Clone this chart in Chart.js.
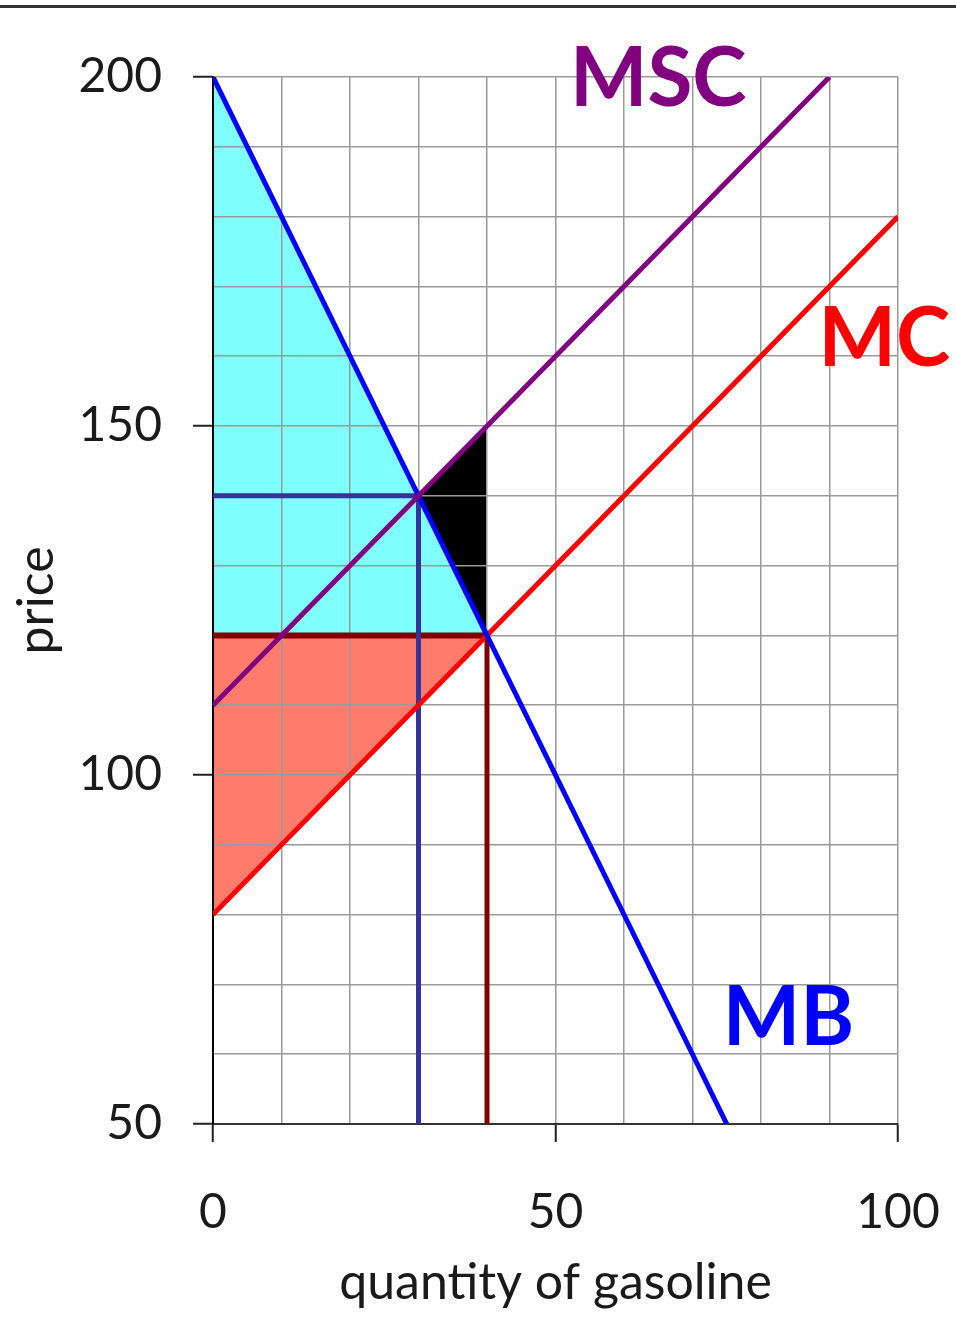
<!DOCTYPE html>
<html>
<head>
<meta charset="utf-8">
<script src="https://cdn.jsdelivr.net/npm/chart.js@4.4.1/dist/chart.umd.min.js"></script>
<style>
  html, body { margin: 0; padding: 0; background: #fff; }
  #wrap { position: relative; width: 956px; height: 1323px; }
  #topline { position: absolute; left: 0; top: 5px; width: 956px; height: 3px; background: #333; }
  canvas { display: block; }
</style>
</head>
<body>
<div id="wrap">
  <canvas id="c" width="956" height="1323"></canvas>
  <div id="topline"></div>
</div>
<script>
// ---- data ----
const mbQ = [0, 75];      const mbP = [200, 50];     // marginal benefit (demand)
const mscQ = [0, 90];     const mscP = [110, 200];   // marginal social cost
const mcQ = [0, 100];     const mcP = [80, 180];     // marginal private cost
const optimumQ = 30;      const optimumP = 140;      // MB = MSC
const marketQ = 40;       const marketP = 120;       // MB = MC
const xTickLabels = [0, 50, 100];
const yTickLabels = [50, 100, 150, 200];
const curveLabels = ['MSC', 'MC', 'MB'];
const curveLabelQ = [65, 98, 84];
const curveLabelP = [199.7, 162.4, 65.15];

const pts = (qs, ps) => qs.map((q, i) => ({ x: q, y: ps[i] }));
const mbAt = q => mbP[0] + (mbP[1] - mbP[0]) * (q - mbQ[0]) / (mbQ[1] - mbQ[0]);
const mscAt = q => mscP[0] + (mscP[1] - mscP[0]) * (q - mscQ[0]) / (mscQ[1] - mscQ[0]);
const mcAt = q => mcP[0] + (mcP[1] - mcP[0]) * (q - mcQ[0]) / (mcQ[1] - mcQ[0]);

const FONT = 'Lato';
const base = { showLine: true, pointRadius: 0, pointHoverRadius: 0, fill: false, tension: 0 };

const datasets = [
  { ...base, label: 'MSC', data: pts(mscQ, mscP), borderColor: '#800080', borderWidth: 5 },
  { ...base, label: 'MB', data: pts(mbQ, mbP), borderColor: '#0000FF', borderWidth: 5 },
  { ...base, label: 'MC', data: pts(mcQ, mcP), borderColor: '#FF0000', borderWidth: 5 },
  { ...base, label: 'optV', data: [{x: optimumQ, y: optimumP}, {x: optimumQ, y: yTickLabels[0]}], borderColor: '#333399', borderWidth: 5 },
  { ...base, label: 'optH', data: [{x: 0, y: optimumP}, {x: optimumQ, y: optimumP}], borderColor: '#333399', borderWidth: 5 },
  { ...base, label: 'mktV', data: [{x: marketQ, y: marketP}, {x: marketQ, y: yTickLabels[0]}], borderColor: '#800000', borderWidth: 5 },
  { ...base, label: 'mktH', data: [{x: 0, y: marketP}, {x: marketQ, y: marketP}], borderColor: '#800000', borderWidth: 6 },
  { ...base, label: 'dwlTop', data: [{x: optimumQ, y: mscAt(optimumQ)}, {x: marketQ, y: mscAt(marketQ)}], borderWidth: 0, borderColor: 'rgba(0,0,0,0)', fill: '+1', backgroundColor: '#000000' },
  { ...base, label: 'dwlBot', data: [{x: optimumQ, y: mbAt(optimumQ)}, {x: marketQ, y: mbAt(marketQ)}], borderWidth: 0, borderColor: 'rgba(0,0,0,0)' },
  { ...base, label: 'cs', data: [{x: 0, y: mbAt(0)}, {x: marketQ, y: mbAt(marketQ)}], borderWidth: 0, borderColor: 'rgba(0,0,0,0)', fill: {value: marketP}, backgroundColor: '#80FFFF' },
  { ...base, label: 'ps', data: [{x: 0, y: mcAt(0)}, {x: marketQ, y: mcAt(marketQ)}], borderWidth: 0, borderColor: 'rgba(0,0,0,0)', fill: {value: marketP}, backgroundColor: '#FF7C6C' }
];

const labelPlugin = {
  id: 'curveLabels',
  afterDatasetsDraw(chart) {
    const { ctx, scales: { x, y } } = chart;
    const colors = ['#800080', '#FF0000', '#0000FF'];
    ctx.save();
    ctx.font = 'bold 82px ' + FONT;
    ctx.textAlign = 'center';
    ctx.textBaseline = 'middle';
    curveLabels.forEach((t, i) => {
      ctx.fillStyle = colors[i];
      ctx.fillText(t, x.getPixelForValue(curveLabelQ[i]), y.getPixelForValue(curveLabelP[i]));
    });
    ctx.restore();
  }
};

new Chart(document.getElementById('c'), {
  type: 'scatter',
  data: { datasets },
  plugins: [labelPlugin],
  options: {
    responsive: false,
    animation: false,
    events: [],
    layout: { padding: { top: 77, right: 58, left: 0, bottom: 0 } },
    plugins: {
      legend: { display: false },
      tooltip: { enabled: false },
      filler: { drawTime: 'beforeDraw', propagate: false }
    },
    scales: {
      x: {
        type: 'linear', min: 0, max: 100,
        afterFit: s => { s.height = 199; s.paddingLeft = 0; s.paddingRight = 0; },
        afterBuildTicks: s => { s.ticks = Array.from({length: 11}, (_, i) => ({ value: i * 10 })); },
        ticks: {
          autoSkip: false, maxRotation: 0, padding: 42,
          font: { family: FONT, size: 48 }, color: '#1a1a1a',
          callback: v => xTickLabels.includes(v) ? String(v) : ''
        },
        grid: {
          color: '#9a9a9a', lineWidth: 1.5, tickLength: 18, tickWidth: 2,
          tickColor: c => (c.tick && xTickLabels.includes(c.tick.value)) ? '#222' : 'rgba(0,0,0,0)'
        },
        border: { color: '#333', width: 2 },
        title: { display: true, text: 'quantity of gasoline', font: { family: FONT, size: 50 }, color: '#1a1a1a', padding: { top: 0, bottom: 10 } }
      },
      y: {
        type: 'linear', min: 50, max: 200,
        afterFit: s => { s.width = 213; s.paddingTop = 0; s.paddingBottom = 0; },
        afterBuildTicks: s => { s.ticks = Array.from({length: 16}, (_, i) => ({ value: 50 + i * 10 })); },
        ticks: {
          autoSkip: false, padding: 31,
          font: { family: FONT, size: 48 }, color: '#1a1a1a',
          callback: v => yTickLabels.includes(v) ? String(v) : ''
        },
        grid: {
          color: '#9a9a9a', lineWidth: 1.5, tickLength: 20, tickWidth: 2,
          tickColor: c => (c.tick && yTickLabels.includes(c.tick.value)) ? '#222' : 'rgba(0,0,0,0)'
        },
        border: { color: '#000', width: 2 },
        title: { display: true, text: 'price', font: { family: FONT, size: 50 }, color: '#1a1a1a', padding: { top: 7, bottom: 0 } }
      }
    }
  }
});
</script>
</body>
</html>
